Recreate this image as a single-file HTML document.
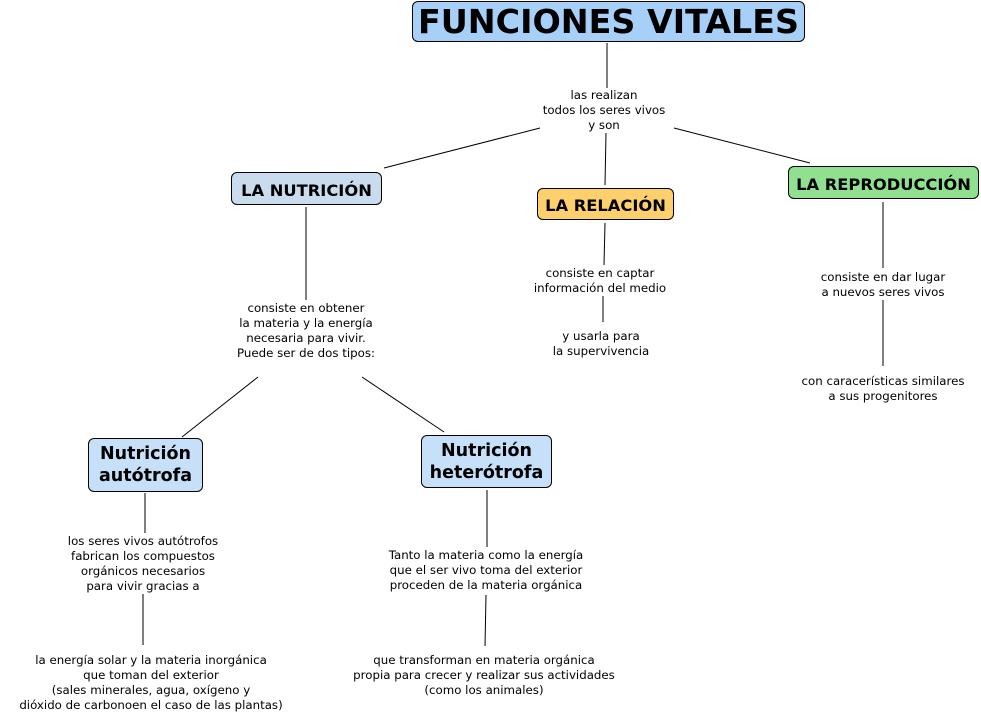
<!DOCTYPE html>
<html><head><meta charset="utf-8"><style>
body{margin:0;width:981px;height:721px;background:#fff;position:relative;overflow:hidden;font-family:"DejaVu Sans","Liberation Sans",sans-serif;color:#000}
.b{position:absolute;box-sizing:border-box;border:1px solid #000;border-radius:6px;font-weight:bold;display:flex;align-items:center;justify-content:center;text-align:center}
.t{position:absolute;font-size:11.8px;line-height:15px;text-align:center;white-space:nowrap;transform:translateX(-50%)}
svg{position:absolute;left:0;top:0}
</style></head><body>
<svg width="981" height="721" stroke="#000" stroke-width="1">
<line x1="607" y1="43" x2="607" y2="88"/>
<line x1="540" y1="128" x2="384" y2="168"/>
<line x1="606" y1="133" x2="605" y2="185"/>
<line x1="674" y1="128" x2="810" y2="163"/>
<line x1="306" y1="207" x2="306" y2="300"/>
<line x1="258" y1="377" x2="182" y2="437"/>
<line x1="362" y1="377" x2="444" y2="432"/>
<line x1="605" y1="223" x2="604" y2="265"/>
<line x1="603" y1="296" x2="603" y2="322"/>
<line x1="883" y1="202" x2="883" y2="268"/>
<line x1="883" y1="300" x2="883" y2="366"/>
<line x1="145" y1="493" x2="145" y2="533"/>
<line x1="143" y1="594" x2="143" y2="645"/>
<line x1="487" y1="490" x2="487" y2="547"/>
<line x1="486" y1="595" x2="485" y2="646"/>
</svg>
<div class="b" style="left:412px;top:1px;width:393px;height:41px;background:#a6d0f8;font-size:33.3px">FUNCIONES VITALES</div>
<div class="b" style="left:231px;top:172px;width:151px;height:33px;background:#c8dcee;font-size:16.3px;padding-top:3px">LA NUTRICIÓN</div>
<div class="b" style="left:537px;top:188px;width:137px;height:32px;background:#fdd06d;font-size:16.3px;padding-top:3px">LA RELACIÓN</div>
<div class="b" style="left:788px;top:166px;width:191px;height:33px;background:#90e090;font-size:16.3px;padding-top:3px">LA REPRODUCCIÓN</div>
<div class="b" style="left:88px;top:438px;width:115px;height:54px;background:#c5e0f8;font-size:17.5px;line-height:22px">Nutrición<br>autótrofa</div>
<div class="b" style="left:421px;top:435px;width:131px;height:53px;background:#c5e0f8;font-size:17.5px;line-height:22px">Nutrición<br>heterótrofa</div>
<div class="t" style="left:604px;top:88px">las realizan<br>todos los seres vivos<br>y son</div>
<div class="t" style="left:306px;top:301px">consiste en obtener<br>la materia y la energía<br>necesaria para vivir.<br>Puede ser de dos tipos:</div>
<div class="t" style="left:600px;top:266px">consiste en captar<br>información del medio</div>
<div class="t" style="left:601px;top:329px">y usarla para<br>la supervivencia</div>
<div class="t" style="left:883px;top:270px">consiste en dar lugar<br>a nuevos seres vivos</div>
<div class="t" style="left:883px;top:374px">con caracerísticas similares<br>a sus progenitores</div>
<div class="t" style="left:143px;top:534px">los seres vivos autótrofos<br>fabrican los compuestos<br>orgánicos necesarios<br>para vivir gracias a</div>
<div class="t" style="left:151px;top:653px">la energía solar y la materia inorgánica<br>que toman del exterior<br>(sales minerales, agua, oxígeno y<br>dióxido de carbonoen el caso de las plantas)</div>
<div class="t" style="left:486px;top:548px">Tanto la materia como la energía<br>que el ser vivo toma del exterior<br>proceden de la materia orgánica</div>
<div class="t" style="left:484px;top:653px">que transforman en materia orgánica<br>propia para crecer y realizar sus actividades<br>(como los animales)</div>
</body></html>
